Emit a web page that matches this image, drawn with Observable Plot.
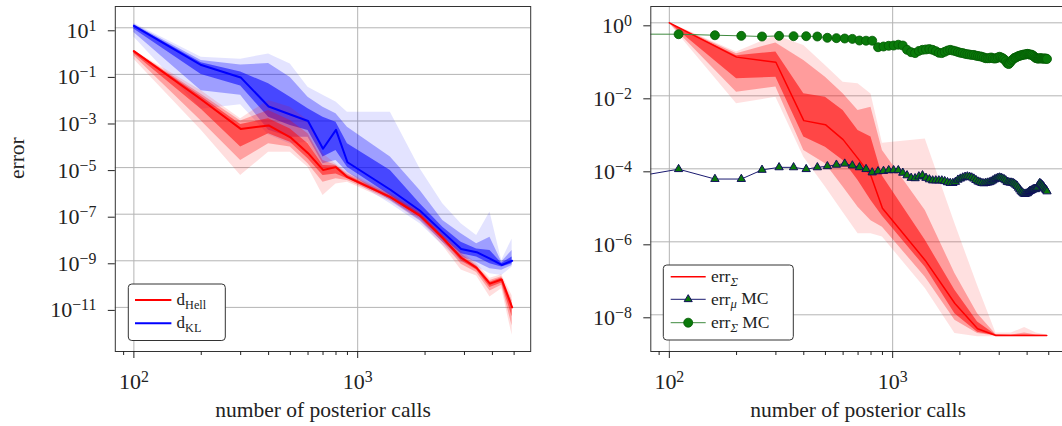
<!DOCTYPE html>
<html><head><meta charset="utf-8">
<script src="https://cdn.jsdelivr.net/npm/d3@7"></script>
<script src="https://cdn.jsdelivr.net/npm/@observablehq/plot@0.6"></script>
<style>
html,body{margin:0;padding:0;background:#fff;overflow:hidden;}
#wrap{display:flex;width:1062px;height:426px;overflow:hidden;background:#fff;}
#wrap svg{flex:none;}
</style></head><body><div id="wrap"></div>
<script>
const FONT = "'Liberation Serif','DejaVu Serif',serif";

// ---------- data (values stored as log10 of the plotted quantity) ----------
const xPts = [100,200,300,400,500,600,700,800,900,1400,1900,2400,2900,3400,3900,4400,4900];

// left panel: d_Hell (red)
const hellMed   = [0,-2.08,-3.34,-3.19,-3.7,-4.38,-5.1,-4.98,-5.41,-6.27,-7.06,-8.02,-8.87,-9.3,-9.98,-9.8,-11.0];
const hellOutLo = [-0.35,-3.4,-5.34,-4.34,-4.34,-4.98,-6.2,-5.7,-5.63,-6.45,-7.3,-8.35,-9.4,-9.65,-10.55,-10.2,-12.2];
const hellOutHi = [0.03,-1.7,-2.9,-2.12,-2.41,-2.98,-4.41,-4.85,-5.2,-6.1,-6.85,-7.8,-8.6,-9.1,-9.75,-9.6,-10.5];
const hellMidLo = [-0.2,-3.0,-4.7,-3.98,-4.12,-4.84,-5.63,-5.48,-5.55,-6.38,-7.2,-8.2,-9.15,-9.5,-10.3,-10.05,-11.8];
const hellMidHi = [0.02,-1.85,-3.0,-2.55,-2.98,-3.55,-4.7,-4.9,-5.28,-6.17,-6.93,-7.9,-8.7,-9.2,-9.85,-9.68,-10.7];
const hellInLo  = [-0.1,-2.5,-4.12,-3.55,-3.91,-4.62,-5.34,-5.27,-5.48,-6.33,-7.12,-8.1,-9.0,-9.4,-10.15,-9.95,-11.4];
const hellInHi  = [0.01,-1.95,-3.15,-2.9,-3.34,-3.98,-4.91,-4.93,-5.34,-6.22,-7.0,-7.96,-8.8,-9.25,-9.92,-9.74,-10.85];

// left panel: d_KL (blue)
const klMed   = [1.08,-0.6,-1.13,-2.38,-2.72,-3.0,-4.19,-3.38,-4.77,-5.95,-6.85,-7.77,-8.49,-8.63,-8.91,-9.18,-9.0];
const klOutLo = [0.6,-2.5,-2.3,-3.6,-3.99,-3.91,-5.05,-4.98,-5.41,-6.55,-7.41,-8.34,-9.06,-9.27,-9.56,-9.63,-9.27];
const klOutHi = [1.2,-0.26,-0.35,-0.12,-0.55,-1.55,-1.9,-2.19,-2.62,-2.62,-5.05,-6.55,-7.41,-7.91,-6.91,-8.99,-8.06];
const klMidLo = [0.8,-1.7,-1.9,-3.4,-3.7,-3.7,-4.84,-4.7,-5.2,-6.41,-7.27,-8.2,-8.84,-9.06,-9.34,-9.41,-9.2];
const klMidHi = [1.15,-0.4,-0.6,-0.53,-1.13,-1.98,-2.41,-2.69,-3.27,-4.55,-5.98,-7.27,-7.84,-8.27,-7.99,-9.05,-8.56];
const klInLo  = [0.95,-1.0,-1.5,-2.84,-3.19,-3.41,-4.55,-4.27,-4.98,-6.2,-7.13,-7.99,-8.7,-8.84,-9.13,-9.27,-9.13];
const klInHi  = [1.12,-0.5,-0.9,-1.4,-1.98,-2.47,-2.84,-3.05,-3.98,-5.12,-6.55,-7.56,-8.2,-8.49,-8.56,-9.1,-8.84];

// right panel: err_Sigma (red)
const errMed   = [0,-0.94,-1.08,-2.68,-2.79,-3.2,-3.72,-4.2,-5.08,-6.51,-7.69,-8.38,-8.567,-8.567,-8.567,-8.567,-8.567];
const errOutLo = [-0.02,-2.22,-2.04,-3.68,-4.5,-5.2,-5.78,-5.78,-5.87,-7.28,-8.51,-8.6,-8.6,-8.6,-8.6,-8.6,-8.58];
const errOutHi = [0.01,-0.8,-0.35,-0.62,-1.17,-1.63,-1.67,-1.95,-3.3,-3.18,-5.5,-7.2,-8.5,-8.5,-8.35,-8.5,-8.55];
const errMidLo = [-0.01,-1.9,-1.76,-3.5,-3.86,-4.5,-5.05,-5.42,-5.6,-6.97,-8.15,-8.51,-8.58,-8.58,-8.58,-8.58,-8.57];
const errMidHi = [0.005,-0.85,-0.55,-1.03,-1.49,-1.94,-2.4,-2.31,-3.5,-5.14,-6.87,-7.97,-8.54,-8.55,-8.5,-8.55,-8.56];
const errInLo  = [-0.005,-1.53,-1.49,-3.13,-3.41,-3.77,-4.32,-4.87,-5.3,-6.7,-7.97,-8.48,-8.575,-8.575,-8.575,-8.575,-8.567];
const errInHi  = [0.002,-0.9,-0.8,-1.94,-2.04,-2.4,-2.95,-3.13,-4.2,-5.96,-7.33,-8.2,-8.555,-8.56,-8.55,-8.56,-8.567];

// right panel: Monte Carlo reference curves
const xMC = [60,110,160,210,260,310,360,410,460,510,560,610,660,710,760,810,860,910,960,1010,
  1060,1110,1160,1210,1260,1310,1360,1410,1460,1510,1560,1610,1660,1710,1760,1810,1860,1910,1960,2010,
  2060,2110,2160,2210,2260,2310,2360,2410,2460,2510,2560,2610,2660,2710,2760,2810,2860,2910,2960,3010,
  3060,3110,3160,3210,3260,3310,3360,3410,3460,3510,3560,3610,3660,3710,3760,3810,3860,3910,3960,4010,
  4060,4110,4160,4210,4260,4310,4360,4410,4460,4510,4560,4610,4660,4710,4760,4810,4860,4910];
const muMC = [-4.29,-4.01,-4.28,-4.28,-4.03,-3.96,-3.96,-4.01,-3.96,-3.93,
  -3.89,-3.86,-3.91,-3.96,-4.01,-4.10,-4.07,-4.06,-4.04,-4.04,
  -4.04,-4.11,-4.18,-4.25,-4.26,-4.21,-4.18,-4.25,-4.29,-4.32,
  -4.32,-4.32,-4.32,-4.34,-4.37,-4.39,-4.39,-4.36,-4.30,-4.27,
  -4.24,-4.22,-4.21,-4.22,-4.24,-4.27,-4.31,-4.35,-4.37,-4.39,
  -4.40,-4.39,-4.38,-4.37,-4.35,-4.32,-4.29,-4.27,-4.25,-4.24,
  -4.25,-4.27,-4.29,-4.32,-4.36,-4.37,-4.38,-4.38,-4.39,-4.41,
  -4.44,-4.47,-4.52,-4.57,-4.62,-4.65,-4.68,-4.69,-4.68,-4.67,
  -4.64,-4.61,-4.60,-4.58,-4.56,-4.55,-4.56,-4.53,-4.49,-4.43,
  -4.39,-4.41,-4.44,-4.47,-4.51,-4.55,-4.58,-4.62];
const sigMC = [-0.31,-0.312,-0.34,-0.357,-0.375,-0.357,-0.366,-0.366,-0.375,-0.41,
  -0.42,-0.43,-0.44,-0.485,-0.49,-0.49,-0.668,-0.649,-0.63,-0.622,
  -0.60,-0.622,-0.74,-0.805,-0.83,-0.77,-0.74,-0.73,-0.72,-0.74,
  -0.776,-0.82,-0.83,-0.795,-0.76,-0.74,-0.76,-0.776,-0.80,-0.82,
  -0.83,-0.85,-0.86,-0.87,-0.88,-0.88,-0.90,-0.91,-0.92,-0.93,
  -0.95,-0.97,-0.97,-0.97,-0.95,-0.97,-0.98,-0.97,-0.95,-0.93,
  -0.95,-0.97,-1.0,-1.05,-1.11,-1.13,-1.09,-1.03,-1.0,-0.96,
  -0.95,-0.93,-0.91,-0.90,-0.89,-0.88,-0.87,-0.87,-0.86,-0.85,
  -0.86,-0.87,-0.87,-0.88,-0.90,-0.93,-0.96,-0.97,-0.98,-0.98,
  -0.97,-0.97,-0.98,-0.98,-0.98,-0.98,-0.98,-0.99];

// axes
const xDomain = [82.6, 5930];
const xMajor = [100, 1000];
const xMinor = [90,200,300,400,500,600,700,800,900,2000,3000,4000,5000];
const yDomainL = [1.28e-13, 82];
const yTicksL = [10,1e-1,1e-3,1e-5,1e-7,1e-9,1e-11];
const yDomainR = [9.88e-10, 2.8];
const yTicksR = [1,1e-2,1e-4,1e-6,1e-8];
const xTitle = "number of posterior calls";
const yTitle = "error";

// ---------- helpers ----------
const pw = v => Math.pow(10, v);
const bandRows = (xs, lo, hi) => xs.map((x, i) => ({x, lo: pw(lo[i]), hi: pw(hi[i])}));
const lineRows = (xs, m) => xs.map((x, i) => ({x, y: pw(m[i])}));
const expFmt = d => String(Math.round(Math.log10(d)));
const GRID = "#b4b4b4";

function bands(lo3, hi3, color, ops) {
  return lo3.map((lo, k) => Plot.areaY(bandRows(xPts, lo, hi3[k]),
    {x: "x", y1: "lo", y2: "hi", fill: color, fillOpacity: ops[k], clip: true}));
}

function axes(yTicks) {
  return [
    Plot.frame({stroke: "#333", strokeWidth: 1}),
    Plot.axisX(xMinor, {tickSize: 4, tickFormat: () => "", label: null, stroke: "#222"}),
    Plot.axisX(xMajor, {tickSize: 7, tickPadding: 15, fontSize: 22, tickFormat: expFmt, label: null, stroke: "#222", fill: "#222"}),
    Plot.axisY(yTicks, {tickSize: 7, tickPadding: 12, fontSize: 22, dy: 3, tickFormat: expFmt, label: null, stroke: "#222", fill: "#222"}),
    Plot.text([xTitle], {text: d => d, frameAnchor: "bottom", lineAnchor: "middle", dy: 59, fontSize: 21.5, fill: "#222", letterSpacing: 1.1})
  ];
}

function supTicks(svg) {
  d3.select(svg).selectAll('g[aria-label="x-axis tick label"] text, g[aria-label="y-axis tick label"] text').each(function () {
    const e = this.textContent;
    if (!e) return;
    const t = d3.select(this);
    t.text(null);
    t.append("tspan").text("10");
    t.append("tspan").attr("dy", "-0.45em").attr("font-size", "0.72em").text(e.replace("-", "\u2212"));
  });
}

function legend(svg, box, items, fs) {
  const g = d3.select(svg).append("g").attr("font-family", FONT).attr("font-size", fs)
    .attr("fill", "#222").attr("text-anchor", "start");
  g.append("rect").attr("x", box.x).attr("y", box.y).attr("width", box.w).attr("height", box.h)
    .attr("rx", 3.5).attr("fill", "#fff").attr("stroke", "#333").attr("stroke-width", 1);
  items.forEach(it => {
    g.append("line").attr("x1", box.lx1).attr("x2", box.lx2).attr("y1", it.y).attr("y2", it.y)
      .attr("stroke", it.color).attr("stroke-width", it.sw);
    const cx = (box.lx1 + box.lx2) / 2;
    if (it.marker === "circle")
      g.append("circle").attr("cx", cx).attr("cy", it.y).attr("r", 4.5).attr("fill", "#0a7a0a").attr("stroke", "#045a04").attr("stroke-width", 0.8);
    if (it.marker === "triangle")
      g.append("path").attr("transform", `translate(${cx},${it.y})`).attr("d", d3.symbol(d3.symbolTriangle, Math.PI * 9)())
        .attr("fill", "#0a7a0a").attr("stroke", "#10105a").attr("stroke-width", 1);
    const t = g.append("text").attr("x", box.tx).attr("y", it.y + fs * 0.3);
    let down = false;
    it.parts.forEach(p => {
      const s = t.append("tspan").text(p.t);
      if (p.sub && !down) { s.attr("dy", "0.3em").attr("font-size", "0.72em"); down = true; }
      else if (p.sub) s.attr("font-size", "0.72em");
      else if (down) { s.attr("dy", "-0.22em"); down = false; }
      if (p.it) s.attr("font-style", "italic");
    });
  });
}

// ---------- left panel ----------
const left = Plot.plot({
  width: 540, height: 426,
  marginLeft: 114.8, marginRight: 9.8, marginTop: 6, marginBottom: 75,
  style: {fontFamily: FONT, background: "#fff", overflow: "visible"},
  x: {type: "log", domain: xDomain},
  y: {type: "log", domain: yDomainL},
  marks: [
    Plot.gridX(xMajor, {stroke: GRID, strokeOpacity: 1}),
    Plot.gridY(yTicksL, {stroke: GRID, strokeOpacity: 1}),
    ...bands([klOutLo, klMidLo, klInLo], [klOutHi, klMidHi, klInHi], "#0000ff", [0.11, 0.3, 0.55]),
    ...bands([hellOutLo, hellMidLo, hellInLo], [hellOutHi, hellMidHi, hellInHi], "#ff0000", [0.13, 0.28, 0.5]),
    Plot.line(lineRows(xPts, hellMed), {x: "x", y: "y", stroke: "#ff0000", strokeWidth: 2, clip: true}),
    Plot.line(lineRows(xPts, klMed), {x: "x", y: "y", stroke: "#0000ff", strokeWidth: 2, clip: true}),
    ...axes(yTicksL),
    Plot.text([yTitle], {text: d => d, frameAnchor: "left", dx: -98, rotate: -90, fontSize: 21.5, fill: "#222", letterSpacing: 1.1})
  ]
});
supTicks(left);
legend(left, {x: 128.3, y: 284, w: 97, h: 56.5, lx1: 135, lx2: 171.4, tx: 176.6}, [
  {y: 300, color: "#ff0000", sw: 2, parts: [{t: "d"}, {t: "Hell", sub: true}]},
  {y: 323.3, color: "#0000ff", sw: 2, parts: [{t: "d"}, {t: "KL", sub: true}]}
], 17);

// ---------- right panel ----------
const right = Plot.plot({
  width: 526, height: 426,
  marginLeft: 110.3, marginRight: 1.2, marginTop: 6, marginBottom: 75,
  style: {fontFamily: FONT, background: "#fff", overflow: "visible"},
  x: {type: "log", domain: xDomain},
  y: {type: "log", domain: yDomainR},
  marks: [
    Plot.gridX(xMajor, {stroke: GRID, strokeOpacity: 1}),
    Plot.gridY(yTicksR, {stroke: GRID, strokeOpacity: 1}),
    ...bands([errOutLo, errMidLo, errInLo], [errOutHi, errMidHi, errInHi], "#ff0000", [0.12, 0.3, 0.55]),
    Plot.line(lineRows(xPts, errMed), {x: "x", y: "y", stroke: "#ff0000", strokeWidth: 1.5, clip: true}),
    Plot.line(lineRows(xMC, muMC), {x: "x", y: "y", stroke: "#1a1a70", strokeWidth: 1, clip: true}),
    Plot.dot(lineRows(xMC, muMC), {x: "x", y: "y", symbol: "triangle", r: 3.1, fill: "#0a7a0a", stroke: "#10105a", strokeWidth: 1, clip: true}),
    Plot.line(lineRows(xMC, sigMC), {x: "x", y: "y", stroke: "#3f8a3f", strokeWidth: 1, clip: true}),
    Plot.dot(lineRows(xMC, sigMC), {x: "x", y: "y", r: 4.5, fill: "#0a7a0a", stroke: "#045a04", strokeWidth: 0.8, clip: true}),
    ...axes(yTicksR)
  ]
});
supTicks(right);
legend(right, {x: 123.3, y: 265, w: 130, h: 75, lx1: 130.7, lx2: 165.7, tx: 171}, [
  {y: 276.7, color: "#ff0000", sw: 1.5, parts: [{t: "err"}, {t: "\u03A3", sub: true, it: true}]},
  {y: 299.3, color: "#1a1a70", sw: 1, marker: "triangle", parts: [{t: "err"}, {t: "\u03BC", sub: true, it: true}, {t: "\u00A0MC"}]},
  {y: 322.7, color: "#3f8a3f", sw: 1, marker: "circle", parts: [{t: "err"}, {t: "\u03A3", sub: true, it: true}, {t: "\u00A0MC"}]}
], 17.5);

document.getElementById("wrap").append(left, right);
</script></body></html>
